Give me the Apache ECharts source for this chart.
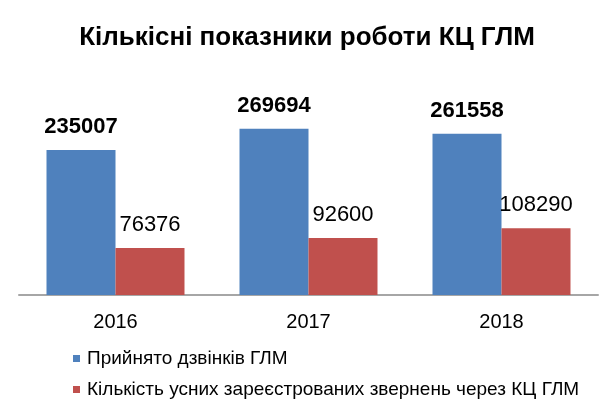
<!DOCTYPE html>
<html>
<head>
<meta charset="utf-8">
<script src="https://cdn.jsdelivr.net/npm/echarts@6/dist/echarts.min.js"></script>
<style>
  html, body { margin: 0; padding: 0; background: #fff; }
  #J_bar { width: 614px; height: 406px; }
</style>
</head>
<body>
<div id="J_bar"></div>
<script>
var years = ['2016', '2017', '2018'];
var callsData = [235007, 269694, 261558];
var appealsData = [76376, 92600, 108290];
var seriesNames = ['Прийнято дзвінків ГЛМ', 'Кількість усних зареєстрованих звернень через КЦ ГЛМ'];

var font = '"Liberation Sans", Arial, sans-serif';

var myChart = echarts.init(document.getElementById('J_bar'));

// one legend per row, so the long second item never wraps into a column
function legendRow(name, top) {
    return {
        orient: 'vertical',
        left: 73,
        top: top,
        padding: 0,
        icon: 'rect',
        itemWidth: 7,
        itemHeight: 7,
        textStyle: {
            fontFamily: font,
            fontSize: 19,
            color: '#000',
            padding: [0, 0, 0, 2]
        },
        data: [name]
    };
}

var option = {
    animation: false,
    title: {
        text: 'Кількісні показники роботи КЦ ГЛМ',
        left: 'center',
        top: 20,
        textStyle: {
            fontFamily: font,
            fontSize: 26,
            fontWeight: 'bold',
            color: '#000'
        }
    },
    legend: [
        legendRow(seriesNames[0], 349),
        legendRow(seriesNames[1], 380)
    ],
    grid: {
        top: 110,
        bottom: 111,
        left: 19,
        right: 16,
        containLabel: false
    },
    xAxis: {
        type: 'category',
        data: years,
        axisLine: {
            show: true,
            lineStyle: {
                color: '#a6a6a6',
                width: 2
            }
        },
        axisTick: {
            show: false
        },
        axisLabel: {
            margin: 17,
            fontFamily: font,
            fontSize: 20,
            color: '#000'
        }
    },
    yAxis: {
        type: 'value',
        min: 0,
        max: 300000,
        show: false
    },
    series: [{
        name: seriesNames[0],
        type: 'bar',
        data: callsData,
        barGap: '0%',
        barCategoryGap: '28.5%',
        itemStyle: {
            color: '#4f81bd'
        },
        label: {
            show: true,
            position: 'top',
            distance: 12,
            fontFamily: font,
            fontSize: 22,
            fontWeight: 'bold',
            color: '#000'
        }
    }, {
        name: seriesNames[1],
        type: 'bar',
        data: appealsData,
        itemStyle: {
            color: '#c0504d'
        },
        label: {
            show: true,
            position: 'top',
            distance: 12,
            fontFamily: font,
            fontSize: 22,
            color: '#000'
        }
    }]
};

myChart.setOption(option);
</script>
</body>
</html>
